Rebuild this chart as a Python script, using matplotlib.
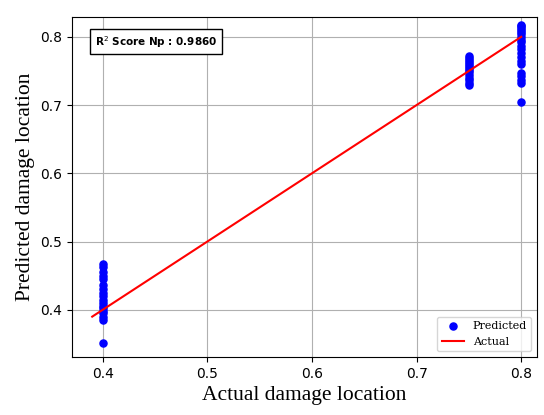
import numpy as np
import matplotlib.pyplot as plt

# actual vs predicted damage location
act_04 = [0.4] * 18
pred_04 = [0.352, 0.385, 0.390, 0.395, 0.398, 0.402, 0.405, 0.410, 0.415, 0.420,
           0.425, 0.430, 0.437, 0.445, 0.450, 0.455, 0.462, 0.467]
act_075 = [0.75] * 14
pred_075 = [0.729, 0.733, 0.737, 0.740, 0.744, 0.748, 0.751, 0.754, 0.757, 0.760,
            0.763, 0.766, 0.769, 0.772]
act_08 = [0.8] * 20
pred_08 = [0.704, 0.732, 0.737, 0.742, 0.747, 0.760, 0.765, 0.770, 0.777, 0.782,
           0.787, 0.792, 0.796, 0.800, 0.804, 0.807, 0.810, 0.813, 0.816, 0.818]
line_x = [0.39, 0.80]
line_y = [0.39, 0.80]
r2 = 0.9860

actual = np.array(act_04 + act_075 + act_08)
pred = np.array(pred_04 + pred_075 + pred_08)

fig, ax = plt.subplots(figsize=(5.44, 4.15), dpi=100)
ax.scatter(actual, pred, color='blue', s=26, label='Predicted', zorder=3)
ax.plot(line_x, line_y, color='red', label='Actual', zorder=4)
ax.set_xlim(0.3705, 0.815)
ax.set_ylim(0.331, 0.829)
ax.set_xticks([0.4, 0.5, 0.6, 0.7, 0.8])
ax.set_yticks([0.4, 0.5, 0.6, 0.7, 0.8])
ax.grid(True, color='#b0b0b0', linewidth=0.8)
ax.set_axisbelow(True)
ax.set_xlabel('Actual damage location', family='Liberation Serif', fontsize=15.5)
ax.set_ylabel('Predicted damage location', family='Liberation Serif', fontsize=15.5)
ax.text(0.05, 0.95, r'R$^2$ Score Np : %.4f' % r2, transform=ax.transAxes,
        fontsize=7.5, fontweight='bold', va='top',
        bbox=dict(boxstyle='square,pad=0.45', facecolor='white', edgecolor='black'))
ax.legend(loc='lower right', prop={'family': 'DejaVu Serif', 'size': 8})
fig.subplots_adjust(left=0.132, right=0.987, top=0.959, bottom=0.14)
fig.savefig('out.png')
